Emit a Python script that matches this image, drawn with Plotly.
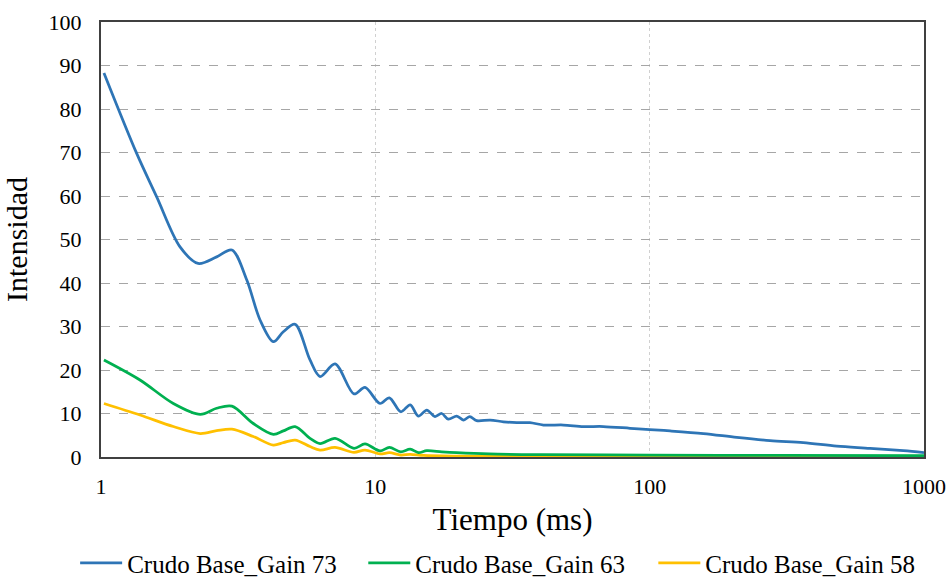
import plotly.graph_objects as go

# Decay curves: time (ms) vs intensity for three gain settings
blue_x = [1.025, 1.349, 1.596, 1.941, 2.26, 2.64, 3.0, 3.40, 3.80, 4.25, 4.62, 5.10, 5.78,
          6.29, 7.13, 8.36, 9.17, 10.4, 11.25, 12.38, 13.4, 14.35, 15.4, 16.5, 17.46, 18.45,
          19.8, 21.0, 22.1, 23.4, 26.2, 29.3, 32.8, 36.6, 41.0, 48.5, 57.3, 67.8, 84.8, 100,
          118.7, 157, 207.7, 274.8, 363, 481, 636, 841, 1000]
blue_y = [88.3, 69.8, 59.8, 48.3, 44.5, 46.0, 47.6, 40.7, 31.5, 26.5, 28.8, 30.5, 22.3,
          18.5, 21.4, 14.5, 16.0, 12.3, 13.6, 10.4, 12.0, 9.4, 10.8, 9.3, 10.0, 8.7,
          9.4, 8.5, 9.3, 8.35, 8.5, 8.1, 7.9, 7.9, 7.35, 7.35, 7.0, 7.0, 6.6, 6.3,
          6.0, 5.4, 4.5, 3.75, 3.3, 2.5, 2.0, 1.45, 1.0]

green_x = [1.025, 1.387, 1.835, 2.30, 2.64, 3.0, 3.59, 4.25, 4.62, 5.10, 5.78, 6.29, 7.13,
           8.36, 9.17, 10.4, 11.25, 12.38, 13.4, 14.35, 15.4, 17.46, 19.8, 26, 40, 100, 300, 1000]
green_y = [22.3, 17.7, 12.3, 9.8, 11.2, 11.7, 7.7, 5.2, 6.0, 7.0, 4.3, 3.1, 4.3,
           2.0, 3.0, 1.4, 2.2, 1.2, 1.8, 1.0, 1.45, 1.2, 1.0, 0.7, 0.55, 0.45, 0.35, 0.3]

yellow_x = [1.025, 1.387, 1.835, 2.30, 2.64, 3.0, 3.59, 4.25, 4.62, 5.10, 5.78, 6.29, 7.13,
            8.36, 9.17, 10.4, 11.25, 12.38, 13.4, 15.0, 20, 50, 1000]
yellow_y = [12.3, 9.65, 7.0, 5.4, 6.05, 6.4, 4.7, 2.75, 3.3, 3.9, 2.4, 1.6, 2.2,
            1.07, 1.6, 0.7, 1.0, 0.45, 0.6, 0.35, 0.2, 0.1, 0.05]

series_names = ["Crudo Base_Gain 73", "Crudo Base_Gain 63", "Crudo Base_Gain 58"]
series_colors = ["#2E75B6", "#00B050", "#FFC000"]
legend_ids = ["legend", "legend2", "legend3"]
legend_x = [0.079, 0.382, 0.687]   # left edge of each legend entry (fraction of page width)

x_ticks = [1, 10, 100, 1000]
y_ticks = [0, 10, 20, 30, 40, 50, 60, 70, 80, 90, 100]

FONT = "Liberation Serif"

fig = go.Figure()
# Draw the lowest series first so the blue curve sits on top
for xs, ys, name, color, lg in reversed(list(zip([blue_x, green_x, yellow_x],
                                                 [blue_y, green_y, yellow_y],
                                                 series_names, series_colors, legend_ids))):
    fig.add_trace(go.Scatter(
        x=xs, y=ys, name=name, mode="lines", legend=lg,
        line=dict(color=color, width=2.75, shape="spline", smoothing=0.9),
    ))

legend_style = dict(
    orientation="h",
    xref="container", yref="container",
    xanchor="left", y=-0.017, yanchor="bottom",
    font=dict(family=FONT, size=25, color="#000000"),
    itemwidth=42, bgcolor="rgba(0,0,0,0)",
)

fig.update_layout(
    width=951, height=586,
    margin=dict(l=101, r=27, t=22, b=129, autoexpand=False),
    paper_bgcolor="white", plot_bgcolor="white",
    font=dict(family=FONT, color="#000000"),
    showlegend=True,
    legend=dict(x=legend_x[0], **legend_style),
    legend2=dict(x=legend_x[1], **legend_style),
    legend3=dict(x=legend_x[2], **legend_style),
)

fig.update_xaxes(
    type="log", range=[0, 3], automargin=False,
    tickvals=x_ticks, ticktext=[str(v) for v in x_ticks],
    tickfont=dict(family=FONT, size=22, color="#000000"),
    ticks="", ticklabelstandoff=9,
    showgrid=True, gridcolor="#d0d0d0", griddash="dot", gridwidth=1,
    showline=True, linecolor="#404040", linewidth=2, mirror=True,
    zeroline=False,
    title=dict(text="Tiempo (ms)", font=dict(family=FONT, size=31, color="#000000"), standoff=10),
)

fig.update_yaxes(
    range=[0, 100], automargin=False,
    tickvals=y_ticks,
    tickfont=dict(family=FONT, size=22, color="#000000"),
    ticks="", ticklabelstandoff=13,
    showgrid=True, gridcolor="#a6a6a6", griddash="dash", gridwidth=1,
    showline=True, linecolor="#404040", linewidth=2, mirror=True,
    zeroline=False,
    title=dict(text="Intensidad", font=dict(family=FONT, size=30, color="#000000"), standoff=12),
)

fig.write_html("out.html")
